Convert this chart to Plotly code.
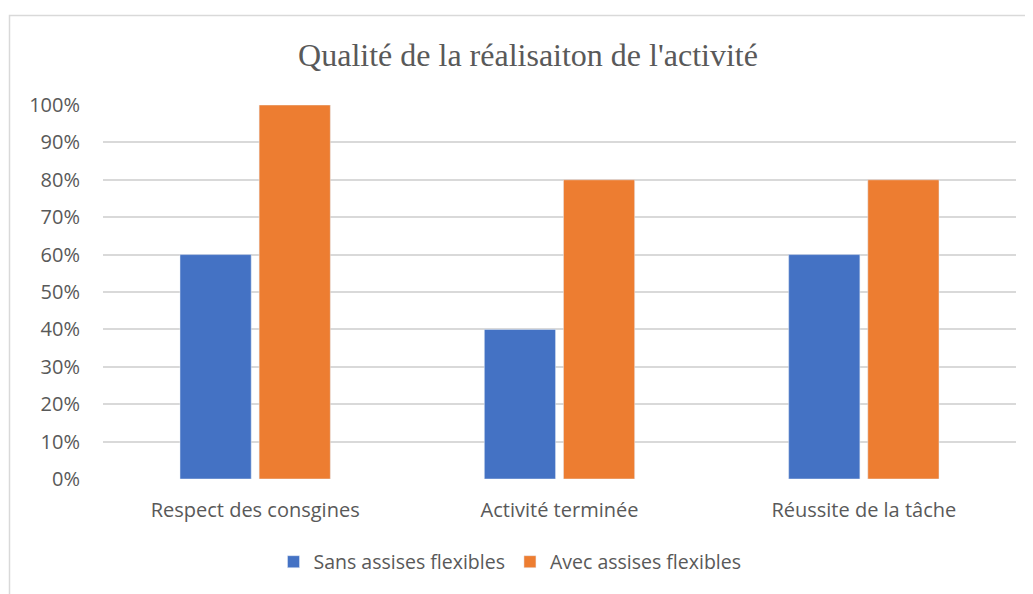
import plotly.graph_objects as go

categories = ["Respect des consgines", "Activité terminée", "Réussite de la tâche"]
sans = [0.60, 0.40, 0.60]
avec = [1.00, 0.80, 0.80]
series_names = ["Sans assises flexibles", "Avec assises flexibles"]
tick_vals = [i / 10 for i in range(11)]
tick_text = [f"{i*10}%" for i in range(11)]

OFF = 8  # page body margin
W, H = 1033 - OFF, 594 - OFF
L = 103 - OFF
T = 105 - OFF
R = W - (1016 - OFF)
B = H - (479 - OFF)
pw = W - L - R
ph = H - T - B

fig = go.Figure()
fig.add_trace(go.Bar(x=categories, y=sans, name=series_names[0], marker_color="#4472C4"))
fig.add_trace(go.Bar(x=categories, y=avec, name=series_names[1], marker_color="#ED7D31"))

txt = "#595959"
fig.update_layout(
    width=W, height=H,
    margin=dict(l=L, r=R, t=T, b=B, autoexpand=False),
    paper_bgcolor="white", plot_bgcolor="white",
    barmode="group", bargap=0.48, bargroupgap=0.10,
    title=dict(text="Qualité de la réalisaiton de l'activité", x=(528 - OFF) / W, xanchor="center",
               xref="container", y=1 - (55 - OFF) / H, yanchor="middle", yref="container",
               font=dict(family="Liberation Serif", size=32, color=txt)),
    font=dict(family="Open Sans", size=20, color=txt),
    legend=dict(orientation="h", x=(510 - OFF) / W, xanchor="center", xref="container",
                y=1 - (562 - OFF) / H, yanchor="middle", yref="container",
                font=dict(size=19.5, color=txt), itemwidth=30, traceorder="normal"),
    xaxis=dict(showgrid=False, showline=False, ticks="", ticklabelstandoff=17,
               tickfont=dict(size=20, color=txt)),
    yaxis=dict(range=[0, 1.0], tickvals=tick_vals, ticktext=tick_text, showgrid=True,
               gridcolor="#D9D9D9", gridwidth=1.5, zeroline=False, showline=False,
               ticks="", ticklabelstandoff=22, tickfont=dict(size=20, color=txt)),
)
# chart-area border
fig.add_shape(type="rect", xref="paper", yref="paper",
              x0=(9.5 - OFF - L) / pw, x1=(W + 20 - L) / pw,
              y0=-(H + 20 - T - ph) / ph, y1=1 + (T - (15.5 - OFF)) / ph,
              line=dict(color="#D9D9D9", width=1.5), fillcolor="rgba(0,0,0,0)", layer="below")
fig.write_html("out.html")
